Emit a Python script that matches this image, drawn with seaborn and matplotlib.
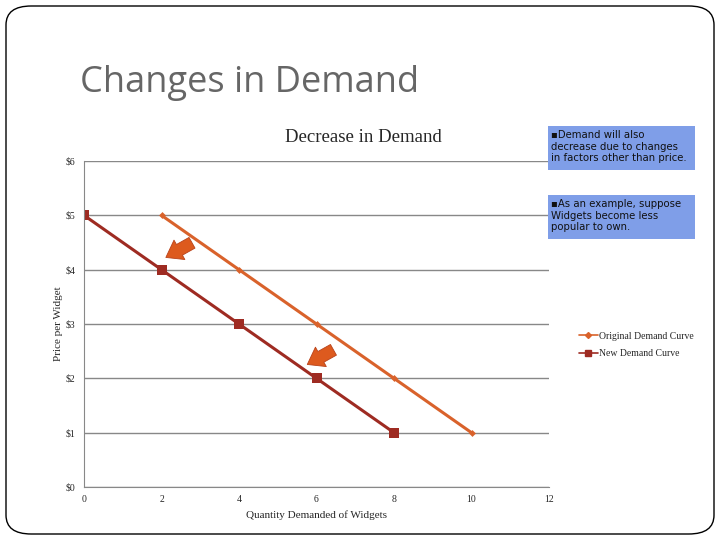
import numpy as np
import pandas as pd
import matplotlib
matplotlib.use('Agg')
import matplotlib.pyplot as plt
import seaborn as sns
from matplotlib.patches import FancyBboxPatch, PathPatch
from matplotlib.path import Path
from matplotlib.lines import Line2D

# Chart data
quantity_original = [2, 4, 6, 8, 10]
price_original = [5, 4, 3, 2, 1]
quantity_new = [0, 2, 4, 6, 8]
price_new = [5, 4, 3, 2, 1]
series_names = ['Original Demand Curve', 'New Demand Curve']
y_ticks = [0, 1, 2, 3, 4, 5, 6]
y_tick_labels = ['$0', '$1', '$2', '$3', '$4', '$5', '$6']
x_ticks = [0, 2, 4, 6, 8, 10, 12]
note_texts = ['\u25aaDemand will also\ndecrease due to changes\nin factors other than price.',
              '\u25aaAs an example, suppose\nWidgets become less\npopular to own.']

color_orig = '#d9622b'
color_new = '#9e2b22'

df = pd.DataFrame({
    'Quantity': quantity_original + quantity_new,
    'Price': price_original + price_new,
    'Series': [series_names[0]] * len(quantity_original) + [series_names[1]] * len(quantity_new),
})

sns.set_style('white')
plt.rcParams['font.family'] = ['Liberation Serif', 'DejaVu Sans']

fig = plt.figure(figsize=(7.2, 5.4), dpi=100)

# slide border
fig.patches.append(FancyBboxPatch((6 / 720, 6 / 540), 708 / 720, 528 / 540,
                                  boxstyle='round,pad=0,rounding_size=0.035',
                                  transform=fig.transFigure, fill=False,
                                  edgecolor='black', linewidth=1.0))

fig.text(80 / 720, 1 - 83 / 540, 'Changes in Demand', fontsize=26, color='#666666',
         family=['Open Sans', 'DejaVu Sans'], va='center', ha='left')

fig.text(363 / 720, 1 - 138 / 540, 'Decrease in Demand', fontsize=13.5, va='center', ha='center')

ax = fig.add_axes([84 / 720, 1 - 487 / 540, 465 / 720, 326 / 540])


def smooth_path(xs, ys, t=0.5):
    # bezier through the points, like the smoothed lines of a spreadsheet chart
    pts = np.column_stack([np.asarray(xs, float), np.asarray(ys, float)])
    verts = [pts[0]]
    codes = [Path.MOVETO]
    n = len(pts)
    for i in range(n - 1):
        p0 = pts[i - 1] if i > 0 else pts[i]
        p1 = pts[i]
        p2 = pts[i + 1]
        p3 = pts[i + 2] if i + 2 < n else pts[i + 1]
        c1 = p1 + (p2 - p0) * t / 3
        c2 = p2 - (p3 - p1) * t / 3
        verts += [c1, c2, p2]
        codes += [Path.CURVE4] * 3
    return Path(verts, codes)


ax.add_patch(PathPatch(smooth_path(quantity_original, price_original), fill=False,
                       edgecolor=color_orig, linewidth=2.2))
ax.add_patch(PathPatch(smooth_path(quantity_new, price_new), fill=False,
                       edgecolor=color_new, linewidth=2.2))

sns.lineplot(data=df, x='Quantity', y='Price', hue='Series', style='Series',
             palette=[color_orig, color_new], markers=['D', 's'], dashes=False,
             linewidth=0, markeredgewidth=0, ax=ax, legend=False, sort=False)
for line, ms in zip(ax.lines, [3.5, 7]):
    line.set_markersize(ms)

handles = [Line2D([], [], color=color_orig, marker='D', markersize=3, linewidth=1.2),
           Line2D([], [], color=color_new, marker='s', markersize=4, linewidth=1.2)]
fig.legend(handles, series_names, loc='center left', bbox_to_anchor=(570 / 720, 1 - 345 / 540),
           frameon=False, fontsize=7, handlelength=2.0, handletextpad=0.1, labelspacing=0.9)

ax.set_xlim(0, 12)
ax.set_ylim(0, 6)
ax.set_xticks(x_ticks)
ax.set_yticks(y_ticks)
ax.set_yticklabels(y_tick_labels)
ax.tick_params(axis='both', labelsize=7, length=0, pad=6)
ax.grid(axis='y', color='#888888', linewidth=1)
for side in ['top', 'right']:
    ax.spines[side].set_visible(False)
ax.spines['left'].set_color('#888888')
ax.spines['bottom'].set_color('#888888')
ax.set_xlabel('Quantity Demanded of Widgets', fontsize=8, labelpad=4)
ax.set_ylabel('Price per Widget', fontsize=8, labelpad=2)

# shift arrows
arrow_style = dict(arrowstyle='simple,head_length=0.7,head_width=1.0,tail_width=0.55',
                   facecolor='#dd5a1e', edgecolor='#b8421a', lw=0.6, mutation_scale=16)
ax.annotate('', xy=(2.05, 4.2), xytext=(2.85, 4.52), arrowprops=arrow_style)
ax.annotate('', xy=(5.7, 2.23), xytext=(6.5, 2.55), arrowprops=arrow_style)

# note boxes
for y_top, txt in zip([126, 195], note_texts):
    fig.patches.append(plt.Rectangle((548 / 720, 1 - (y_top + 44) / 540), 147 / 720, 44 / 540,
                                     transform=fig.transFigure, facecolor='#7f9ee8',
                                     edgecolor='none'))
    fig.text(551 / 720, 1 - (y_top + 4) / 540, txt, fontsize=7.3, va='top', ha='left',
             color='#111111', family=['DejaVu Sans'], linespacing=1.2)

fig.savefig('out.png', dpi=100)
